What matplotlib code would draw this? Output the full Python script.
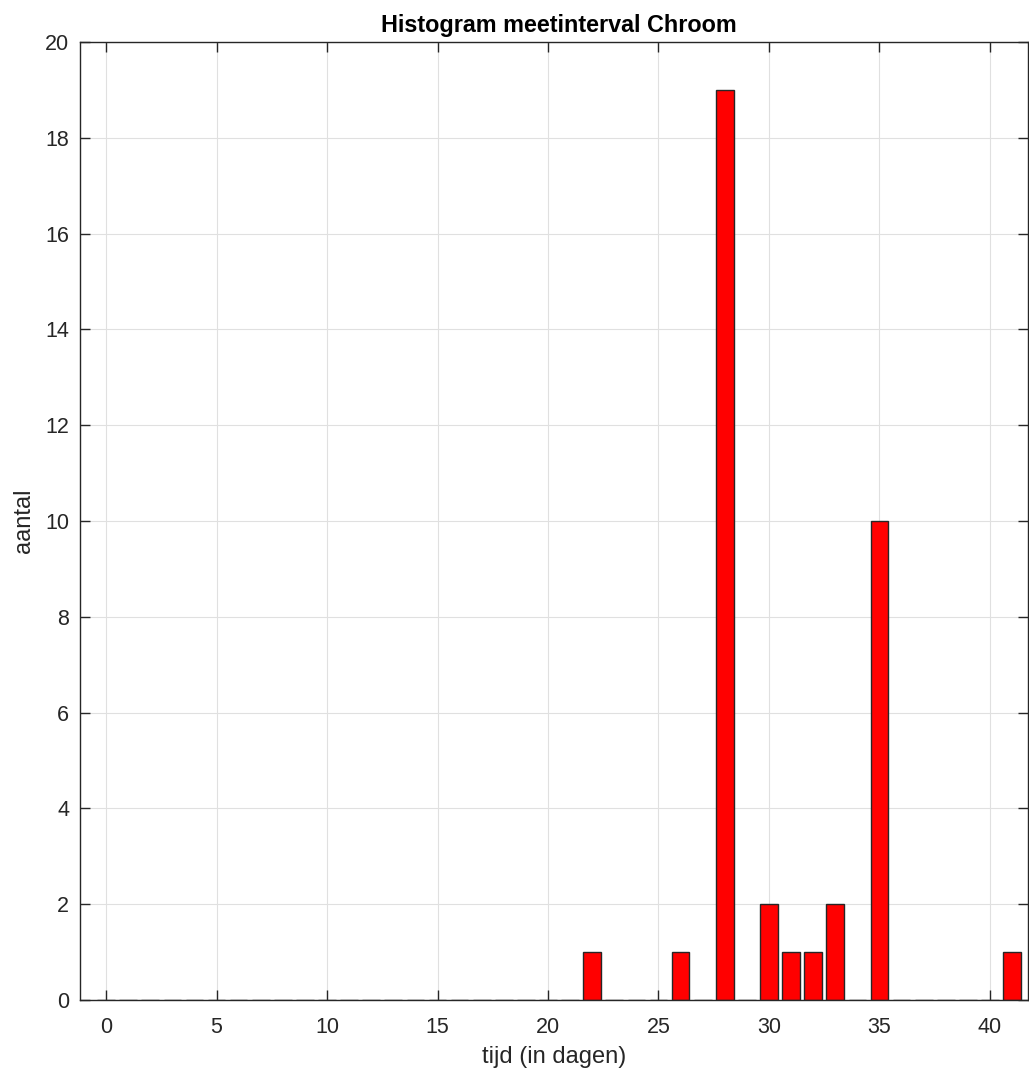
import matplotlib.pyplot as plt
import numpy as np

plt.rcParams['font.family'] = ['Liberation Sans', 'DejaVu Sans']

# interval in days and how often it occurs
dagen = np.arange(0, 42)
aantal = np.zeros(42)
aantal[22] = 1
aantal[26] = 1
aantal[28] = 19
aantal[30] = 2
aantal[31] = 1
aantal[32] = 1
aantal[33] = 2
aantal[35] = 10
aantal[41] = 1

fig = plt.figure(figsize=(10.29, 10.73), dpi=100)
ax = fig.add_axes([0.0773, 0.068, 0.9217, 0.8929])

ax.bar(dagen, aantal, width=0.8, color='#ff0000', edgecolor='#262626', linewidth=1.0, zorder=3)

ax.set_xlim(-1.2, 41.72)
ax.set_ylim(0, 20)
ax.set_xticks(np.arange(0, 45, 5))
ax.set_yticks(np.arange(0, 22, 2))

ax.grid(True, color='#e0e0e0', linewidth=0.8, zorder=0)
ax.set_axisbelow(True)
ax.tick_params(direction='in', length=7.5, width=1.0, colors='#262626', labelsize=15.5,
               top=True, right=True)
ax.tick_params(axis='x', pad=12)
ax.tick_params(axis='y', pad=7.5)
for s in ax.spines.values():
    s.set_color('#262626')
    s.set_linewidth(1.0)
    s.set_zorder(4)

ax.set_title('Histogram meetinterval Chroom', fontsize=16.8, fontweight='bold', pad=7, x=0.505)
ax.set_xlabel('tijd (in dagen)', fontsize=17, color='#262626', labelpad=6)
ax.set_ylabel('aantal', fontsize=17, color='#262626', labelpad=7)

fig.savefig('out.png', dpi=100)
